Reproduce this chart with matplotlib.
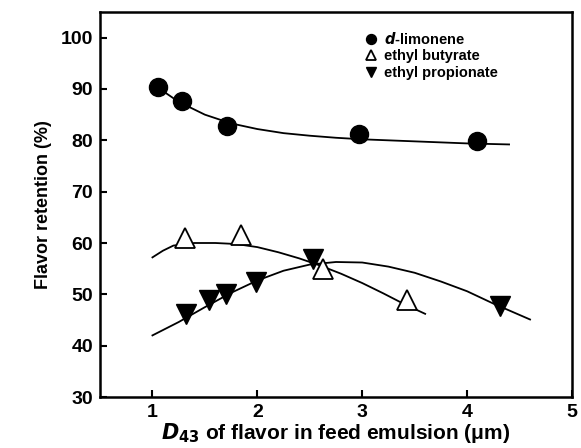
import matplotlib.pyplot as plt

plt.rcParams['font.family'] = ['Liberation Sans', 'DejaVu Sans']
plt.rcParams['font.weight'] = 'bold'

# measured points
lim_x = [1.05, 1.28, 1.71, 2.97, 4.09]
lim_y = [90.4, 87.6, 82.8, 81.2, 79.9]
but_x = [1.31, 1.84, 2.63, 3.43]
but_y = [61.0, 61.6, 55.0, 48.8]
pro_x = [1.32, 1.54, 1.70, 1.99, 2.53, 4.31]
pro_y = [46.2, 48.8, 50.1, 52.4, 56.9, 47.8]

# fitted curves
lim_fit_x = [1.0, 1.25, 1.5, 1.75, 2.0, 2.25, 2.5, 2.75, 3.0, 3.5, 4.0, 4.4]
lim_fit_y = [91.0, 87.5, 85.0, 83.3, 82.2, 81.4, 80.9, 80.5, 80.2, 79.8, 79.4, 79.2]
but_fit_x = [1.0, 1.1, 1.2, 1.4, 1.6, 1.8, 2.0, 2.2, 2.4, 2.6, 2.8, 3.0, 3.2, 3.4, 3.6]
but_fit_y = [57.2, 58.5, 59.5, 60.0, 60.0, 59.8, 59.2, 58.2, 57.0, 55.6, 54.0, 52.2, 50.2, 48.1, 46.2]
pro_fit_x = [1.0, 1.25, 1.5, 1.75, 2.0, 2.25, 2.5, 2.75, 3.0, 3.25, 3.5, 3.75, 4.0, 4.25, 4.6]
pro_fit_y = [42.0, 44.6, 47.5, 50.3, 52.7, 54.6, 55.8, 56.3, 56.2, 55.4, 54.2, 52.5, 50.6, 48.2, 45.1]

fig = plt.figure(figsize=(5.81, 4.48), dpi=100)
ax = fig.add_axes([100 / 581, 51 / 448, 472 / 581, 385 / 448])

for fx, fy in [(lim_fit_x, lim_fit_y), (but_fit_x, but_fit_y), (pro_fit_x, pro_fit_y)]:
    ax.plot(fx, fy, color='black', linewidth=1.3)

ax.plot(lim_x, lim_y, 'o', color='black', markersize=13, label='$d$-limonene')
ax.plot(but_x, but_y, '^', markerfacecolor='white', markeredgecolor='black',
        markeredgewidth=1.3, markersize=14, label='ethyl butyrate')
ax.plot(pro_x, pro_y, 'v', color='black', markersize=14, label='ethyl propionate')

ax.set_xlim(0.5, 5)
ax.set_ylim(30, 105)
ax.set_xticks([1, 2, 3, 4, 5])
ax.set_yticks([30, 40, 50, 60, 70, 80, 90, 100])
ax.tick_params(direction='in', length=5, width=1.5, labelsize=14, pad=5)
for lbl in ax.get_xticklabels() + ax.get_yticklabels():
    lbl.set_fontweight('bold')
for s in ax.spines.values():
    s.set_linewidth(1.8)

ax.set_xlabel('$D_{43}$ of flavor in feed emulsion (\u03bcm)', fontsize=15,
              fontweight='bold', labelpad=0)
ax.set_ylabel('Flavor retention (%)', fontsize=13, fontweight='bold', labelpad=6)

ax.legend(loc='upper left', bbox_to_anchor=(0.55, 0.965), frameon=False,
          fontsize=10.5, markerscale=0.55, handlelength=0.8, handletextpad=0.5,
          labelspacing=0.15, borderaxespad=0)

fig.savefig('out.png', dpi=100)
